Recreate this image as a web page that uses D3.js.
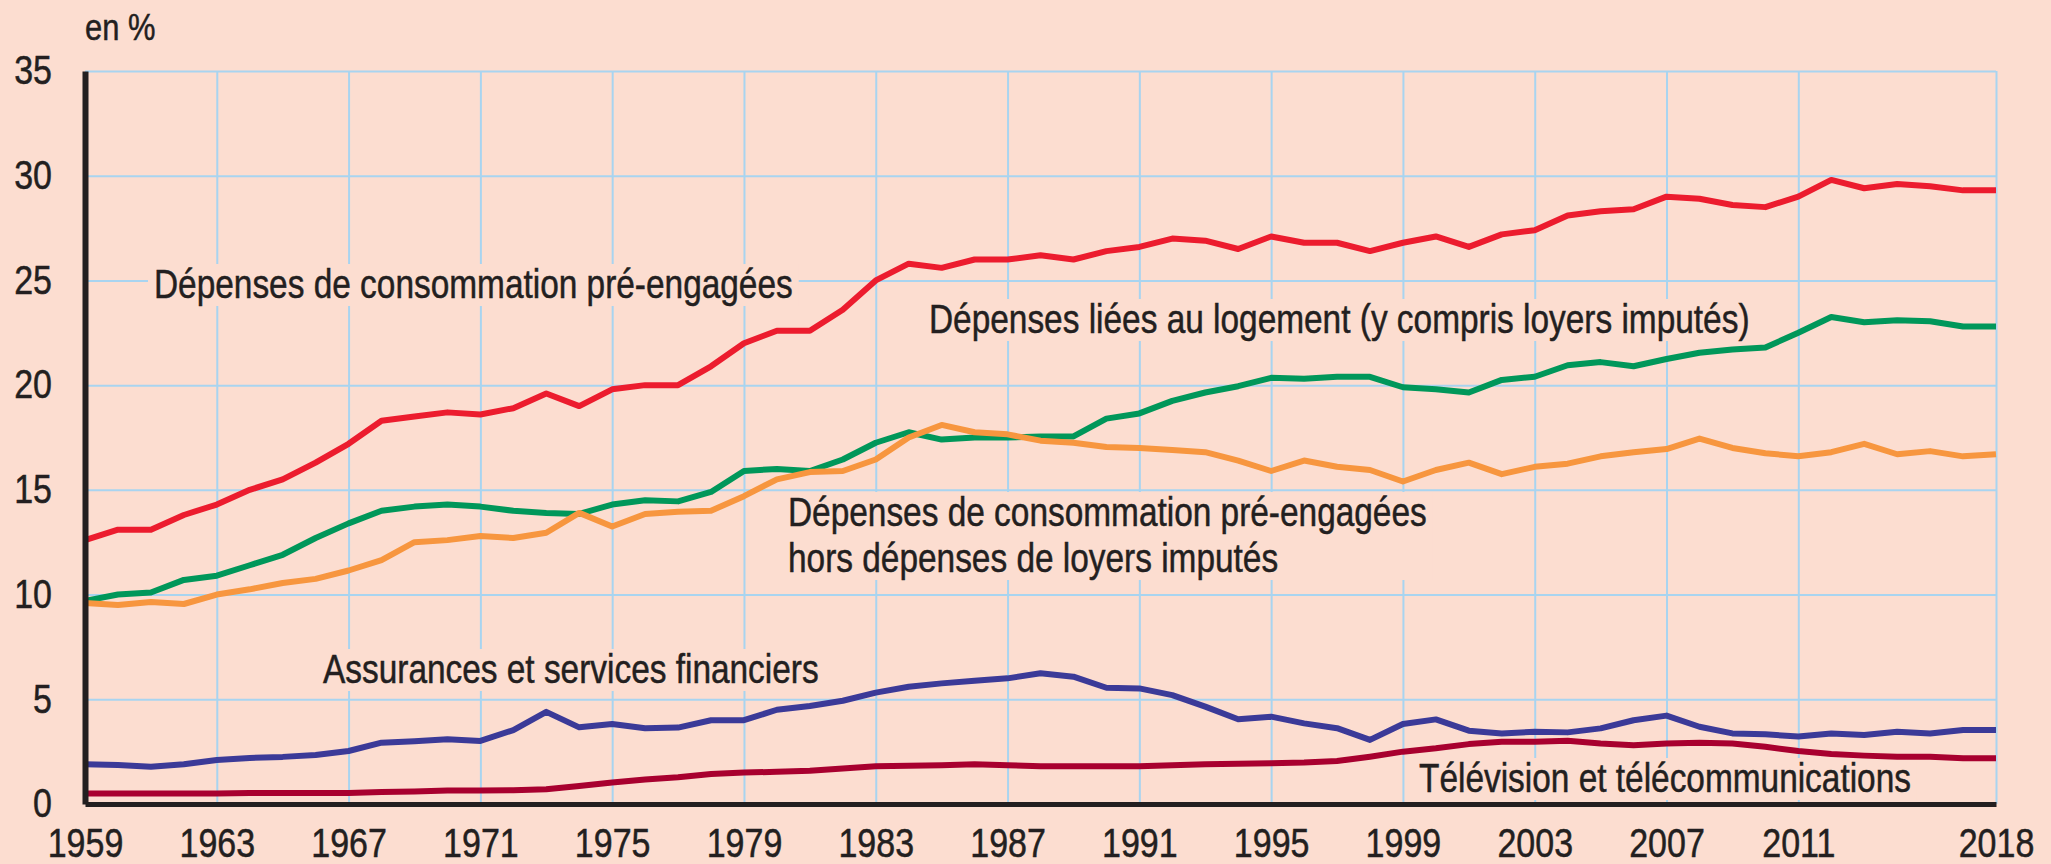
<html>
  <head>
    <meta charset="utf-8" />
    <script src="https://d3js.org/d3.v7.min.js"></script>
    <style>
      body {
        margin: 0;
        background: #fcddd0;
      }
      text {
        font-family: "Liberation Sans", Arial, sans-serif;
        fill: #231f20;
        stroke: #231f20;
        stroke-width: 0.5px;
      }
      .grid line {
        stroke: #a8d4f0;
        stroke-width: 2px;
      }
      .grid .domain {
        display: none;
      }
      .series {
        fill: none;
        stroke-width: 6px;
        stroke-linejoin: round;
        stroke-linecap: butt;
      }
    </style>
  </head>
  <body>
    <svg id="chart" width="2051" height="864"></svg>

    <script>
      // one point per year, 1959 .. 2017 positions (the source labels the last one 2018)
      const firstYear = 1959;
      const nYears = 59;
      const years = d3.range(firstYear, firstYear + nYears);

      const xTicks = [1959, 1963, 1967, 1971, 1975, 1979, 1983, 1987, 1991, 1995, 1999, 2003, 2007, 2011, 2017];
      const xTickLabels = ["1959", "1963", "1967", "1971", "1975", "1979", "1983", "1987", "1991", "1995", "1999", "2003", "2007", "2011", "2018"];
      const yTicks = [0, 5, 10, 15, 20, 25, 30, 35];

      // Dépenses de consommation pré-engagées
      const preEngagees = [
        12.6, 13.1, 13.1, 13.8, 14.3, 15.0, 15.5, 16.3, 17.2, 18.3,
        18.5, 18.7, 18.6, 18.9, 19.6, 19.0, 19.8, 20.0, 20.0, 20.9,
        22.0, 22.6, 22.6, 23.6, 25.0, 25.8, 25.6, 26.0, 26.0, 26.2,
        26.0, 26.4, 26.6, 27.0, 26.9, 26.5, 27.1, 26.8, 26.8, 26.4,
        26.8, 27.1, 26.6, 27.2, 27.4, 28.1, 28.3, 28.4, 29.0, 28.9,
        28.6, 28.5, 29.0, 29.8, 29.4, 29.6, 29.5, 29.3, 29.3
      ];
      // Dépenses liées au logement (y compris loyers imputés)
      const logement = [
        9.7, 10.0, 10.1, 10.7, 10.9, 11.4, 11.9, 12.7, 13.4, 14.0,
        14.2, 14.3, 14.2, 14.0, 13.9, 13.85, 14.3, 14.5, 14.45, 14.9,
        15.9, 16.0, 15.9, 16.45, 17.25, 17.75, 17.4, 17.5, 17.5, 17.55,
        17.55, 18.4, 18.65, 19.25, 19.65, 19.95, 20.35, 20.3, 20.4, 20.4,
        19.9, 19.8, 19.65, 20.25, 20.4, 20.95, 21.1, 20.9, 21.25, 21.55,
        21.7, 21.8, 22.5, 23.25, 23.0, 23.1, 23.05, 22.8, 22.8
      ];
      // pré-engagées hors dépenses de loyers imputés
      const horsLoyers = [
        9.6, 9.5, 9.65, 9.55, 10.0, 10.25, 10.55, 10.75, 11.15, 11.65,
        12.5, 12.6, 12.8, 12.7, 12.95, 13.9, 13.25, 13.85, 13.95, 14.0,
        14.7, 15.5, 15.85, 15.9, 16.45, 17.5, 18.1, 17.75, 17.65, 17.35,
        17.25, 17.05, 17.0, 16.9, 16.8, 16.4, 15.9, 16.4, 16.1, 15.95,
        15.4, 15.95, 16.3, 15.75, 16.1, 16.25, 16.6, 16.8, 16.95, 17.45,
        17.0, 16.75, 16.6, 16.8, 17.2, 16.7, 16.85, 16.6, 16.7
      ];
      // Assurances et services financiers
      const assurances = [
        1.9, 1.86, 1.78, 1.9, 2.1, 2.2, 2.25, 2.34, 2.53, 2.93,
        3.0, 3.09, 3.01, 3.53, 4.4, 3.66, 3.82, 3.62, 3.65, 4.0,
        4.0, 4.5, 4.68, 4.93, 5.32, 5.6, 5.76, 5.89, 6.0, 6.24,
        6.08, 5.55, 5.52, 5.2, 4.65, 4.05, 4.17, 3.85, 3.62, 3.06,
        3.82, 4.04, 3.5, 3.37, 3.45, 3.42, 3.61, 4.0, 4.22, 3.69,
        3.37, 3.33, 3.22, 3.37, 3.3, 3.45, 3.37, 3.53, 3.53
      ];
      // Télévision et télécommunications
      const telecom = [
        0.5, 0.5, 0.5, 0.5, 0.5, 0.52, 0.52, 0.52, 0.52, 0.57,
        0.6, 0.64, 0.64, 0.66, 0.7, 0.86, 1.03, 1.17, 1.28, 1.43,
        1.5, 1.54, 1.59, 1.7, 1.8, 1.83, 1.85, 1.9, 1.85, 1.8,
        1.8, 1.8, 1.8, 1.85, 1.9, 1.92, 1.95, 1.98, 2.05, 2.26,
        2.5, 2.66, 2.86, 2.97, 2.97, 3.02, 2.89, 2.81, 2.89, 2.92,
        2.89, 2.73, 2.53, 2.39, 2.31, 2.26, 2.26, 2.18, 2.18
      ];

      const series = [
        { values: preEngagees, color: "#ec1c2e" },
        { values: logement, color: "#00975a" },
        { values: horsLoyers, color: "#f7963f" },
        { values: assurances, color: "#3b3a98" },
        { values: telecom, color: "#a8002f" },
      ];

      const labels = [
        { lines: ["Dépenses de consommation pré-engagées"], x: 154, y: 298 },
        { lines: ["Dépenses liées au logement (y compris loyers imputés)"], x: 929, y: 333 },
        { lines: ["Dépenses de consommation pré-engagées", "hors dépenses de loyers imputés"], x: 788, y: 526 },
        { lines: ["Assurances et services financiers"], x: 323, y: 683 },
        { lines: ["Télévision et télécommunications"], x: 1419, y: 792 },
      ];

      const svg = d3.select("svg#chart");
      const bg = "#fcddd0";
      const margin = { top: 71, right: 55, bottom: 60, left: 85 };
      const width = +svg.attr("width");
      const height = +svg.attr("height");

      // the source uses a condensed face; squeeze Liberation Sans to match
      const narrow = (sel, k = 0.835) =>
        sel.each(function () {
          const len = this.getComputedTextLength();
          d3.select(this).attr("lengthAdjust", "spacingAndGlyphs").attr("textLength", len * k);
        });

      svg.append("rect").attr("width", width).attr("height", height).attr("fill", bg);

      const x = d3
        .scaleLinear()
        .domain([years[0], years[years.length - 1]])
        .range([margin.left, width - margin.right]);
      const y = d3
        .scaleLinear()
        .domain([0, 35])
        .range([height - margin.bottom, margin.top]);

      // gridlines
      svg
        .append("g")
        .attr("class", "grid")
        .attr("transform", `translate(0,${y(0)})`)
        .call(
          d3.axisBottom(x).tickValues(xTicks.slice(1)).tickSize(-(y(0) - y(35))).tickFormat("")
        );
      svg
        .append("g")
        .attr("class", "grid")
        .attr("transform", `translate(${x(firstYear)},0)`)
        .call(
          d3.axisLeft(y).tickValues(yTicks.slice(1)).tickSize(-(x(2017) - x(firstYear))).tickFormat("")
        );

      // label backgrounds hide the grid behind the texts
      const labelBg = svg.append("g");

      const line = d3
        .line()
        .x((d, i) => x(years[i]))
        .y((d) => y(d));

      svg
        .append("g")
        .selectAll("path.series")
        .data(series)
        .join("path")
        .attr("class", "series")
        .attr("stroke", (d) => d.color)
        .attr("d", (d) => line(d.values));

      const labelText = svg.append("g");
      labels.forEach((l) => {
        const t = labelText
          .append("text")
          .attr("x", l.x)
          .attr("y", l.y)
          .attr("font-size", "40px");
        const spans = t
          .selectAll("tspan")
          .data(l.lines)
          .join("tspan")
          .attr("x", l.x)
          .attr("dy", (d, i) => (i === 0 ? 0 : 46))
          .text((d) => d);
        narrow(spans);
        const b = t.node().getBBox();
        labelBg
          .append("rect")
          .attr("x", b.x - 6)
          .attr("y", b.y + 2)
          .attr("width", b.width + 12)
          .attr("height", b.height - 2)
          .attr("fill", bg);
      });

      // axes
      const yAxis = svg
        .append("g")
        .attr("transform", `translate(${x(firstYear)},0)`)
        .call(d3.axisLeft(y).tickValues(yTicks).tickSize(0).tickPadding(33));
      const xAxis = svg
        .append("g")
        .attr("transform", `translate(0,${y(0)})`)
        .call(
          d3
            .axisBottom(x)
            .tickValues(xTicks)
            .tickSize(0)
            .tickPadding(25)
            .tickFormat((d, i) => xTickLabels[i])
        );
      [yAxis, xAxis].forEach((a) => {
        a.attr("font-size", "40px").attr("font-family", null);
        a.selectAll("text").attr("fill", "#231f20");
        narrow(a.selectAll("text"), 0.85);
        a.select(".domain").attr("stroke", "#231f20");
      });
      yAxis.select(".domain").attr("stroke-width", 6);
      xAxis.select(".domain").attr("stroke-width", 5);

      svg
        .append("text")
        .attr("x", 85)
        .attr("y", 40)
        .attr("font-size", "37px")
        .text("en %")
        .call(narrow);
    </script>
  </body>
</html>
